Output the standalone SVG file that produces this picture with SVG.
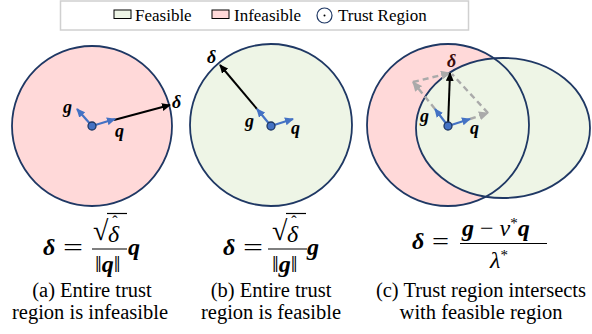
<svg xmlns="http://www.w3.org/2000/svg" width="592" height="334" viewBox="0 0 592 334" font-family="Liberation Serif, serif">
<style>
.lg{font-size:17px}
.cap{font-size:20.5px;text-anchor:middle}
.lab{font-size:18px;font-style:italic;font-weight:bold}
.m{font-size:24px}
.bi{font-style:italic;font-weight:bold}
.it{font-style:italic}
.inf{fill:#FFD9D9}
.fea{fill:#EEF5E6}
.ring{fill:none;stroke:#1F3864;stroke-width:1.8}
.bv{stroke:#4472C4;stroke-width:2.2;fill:none}
.kv{stroke:#000;stroke-width:2;fill:none}
.dv{stroke:#AAAAAA;stroke-width:2.4;stroke-dasharray:6 4;fill:none}
.dot{fill:#4472C4;stroke:#1F3864;stroke-width:1.3}
.bar{stroke:#000;stroke-width:1.2}
</style>
<defs>
<marker id="ab" markerUnits="userSpaceOnUse" markerWidth="9" markerHeight="8" refX="8" refY="4" orient="auto"><path d="M0,0 L9,4 L0,8 z" fill="#4472C4"/></marker>
<marker id="ak" markerUnits="userSpaceOnUse" markerWidth="9" markerHeight="8" refX="8" refY="4" orient="auto"><path d="M0,0 L9,4 L0,8 z" fill="#000"/></marker>
<marker id="ag" markerUnits="userSpaceOnUse" markerWidth="10" markerHeight="9" refX="9" refY="4.5" orient="auto"><path d="M0,0 L10,4.5 L0,9 z" fill="#AAAAAA"/></marker>
</defs>

<g id="legend">
<rect x="60.5" y="1" width="408" height="29" fill="#fff" stroke="#D0D0D0" stroke-width="1.5"/>
<rect x="114" y="10" width="17" height="8.5" class="fea" stroke="#000" stroke-width="1"/>
<text class="lg" x="135" y="21">Feasible</text>
<rect x="212" y="10" width="17" height="8.5" class="inf" stroke="#000" stroke-width="1"/>
<text class="lg" x="234" y="21">Infeasible</text>
<circle cx="324.5" cy="15.5" r="7.5" fill="none" stroke="#1F3864" stroke-width="1.2"/>
<circle cx="324.5" cy="15.5" r="1" fill="#000"/>
<text class="lg" x="338" y="21">Trust Region</text>
</g>

<g id="panel-a">
<circle cx="92" cy="126" r="80" class="inf"/>
<circle cx="92" cy="126" r="80" class="ring"/>
</g>
<g id="panel-b">
<circle cx="271" cy="125" r="81" class="fea"/>
<circle cx="271" cy="125" r="81" class="ring"/>
</g>
<g id="panel-c">
<circle cx="448" cy="125" r="81" class="inf"/>
<ellipse cx="503" cy="128" rx="87" ry="70" class="fea"/>
<circle cx="448" cy="125" r="81" class="ring"/>
<ellipse cx="503" cy="128" rx="87" ry="70" class="ring"/>
</g>

<g id="connectors">
<line x1="114" y1="120" x2="170" y2="105" class="kv" marker-end="url(#ak)"/>
<line x1="92" y1="126" x2="77" y2="109" class="bv" marker-end="url(#ab)"/>
<line x1="92" y1="126" x2="115" y2="119" class="bv" marker-end="url(#ab)"/>

<line x1="257" y1="109" x2="220" y2="65" class="kv" marker-end="url(#ak)"/>
<line x1="271" y1="126" x2="257" y2="109" class="bv" marker-end="url(#ab)"/>
<line x1="271" y1="126" x2="293" y2="119" class="bv" marker-end="url(#ab)"/>

<line x1="435" y1="109" x2="413" y2="82" class="dv" marker-end="url(#ag)"/>
<line x1="413" y1="82" x2="450" y2="73" class="dv" marker-end="url(#ag)"/>
<line x1="470" y1="119" x2="488" y2="113" class="dv" marker-end="url(#ag)"/>
<line x1="488" y1="113" x2="452" y2="74" class="dv"/>
<line x1="448" y1="126" x2="450" y2="73" class="kv" marker-end="url(#ak)"/>
<line x1="448" y1="126" x2="435" y2="109" class="bv" marker-end="url(#ab)"/>
<line x1="448" y1="126" x2="470" y2="119" class="bv" marker-end="url(#ab)"/>
</g>

<g id="dots">
<circle cx="92" cy="126" r="4" class="dot"/>
<circle cx="271" cy="126" r="4" class="dot"/>
<circle cx="448" cy="126" r="4" class="dot"/>
</g>

<g id="labels">
<text class="lab" x="63" y="113">g</text>
<text class="lab" x="115" y="137">q</text>
<text class="lab" x="172" y="108">δ</text>
<text class="lab" x="207" y="63">δ</text>
<text class="lab" x="245" y="127">g</text>
<text class="lab" x="291" y="134">q</text>
<text class="lab" x="447" y="67" fill="#3a0c0c">δ</text>
<text class="lab" x="420" y="122">g</text>
<text class="lab" x="470" y="134">q</text>
</g>

<g id="formula-a">
<text class="m bi" x="43" y="255">δ</text>
<text class="m" x="63" y="255" textLength="20" lengthAdjust="spacingAndGlyphs">=</text>
<line x1="92" y1="249" x2="127" y2="249" class="bar"/>
<text x="93" y="240" font-size="28">√</text>
<line x1="107" y1="213.5" x2="127" y2="213.5" class="bar"/>
<text class="m it" x="108" y="242">δ<tspan dx="-7" dy="-15" font-size="16" font-style="normal">ˆ</tspan></text>
<text class="m" x="95" y="272">‖<tspan class="bi">q</tspan>‖</text>
<text class="m bi" x="128" y="255">q</text>
</g>

<g id="formula-b">
<text class="m bi" x="223" y="255">δ</text>
<text class="m" x="243" y="255" textLength="20" lengthAdjust="spacingAndGlyphs">=</text>
<line x1="268" y1="249" x2="307" y2="249" class="bar"/>
<text x="272" y="240" font-size="28">√</text>
<line x1="286" y1="213.5" x2="306" y2="213.5" class="bar"/>
<text class="m it" x="287" y="242">δ<tspan dx="-7" dy="-15" font-size="16" font-style="normal">ˆ</tspan></text>
<text class="m" x="272" y="272">‖<tspan class="bi">g</tspan>‖</text>
<text class="m bi" x="307" y="255">g</text>
</g>

<g id="formula-c">
<text class="m bi" x="412" y="249">δ</text>
<text class="m" x="432" y="249" textLength="17" lengthAdjust="spacingAndGlyphs">=</text>
<line x1="460" y1="243.5" x2="547" y2="243.5" class="bar"/>
<text class="m" x="462" y="236"><tspan class="bi">g</tspan><tspan dx="6">−</tspan><tspan class="it" dx="6">ν</tspan><tspan dy="-8" font-size="15">*</tspan><tspan class="bi" dy="8">q</tspan></text>
<text class="m" x="490" y="268"><tspan class="it">λ</tspan><tspan dy="-8" font-size="15">*</tspan></text>
</g>

<g id="captions">
<text class="cap" x="92" y="297">(a) Entire trust</text>
<text class="cap" x="90" y="319">region is infeasible</text>
<text class="cap" x="271" y="297">(b) Entire trust</text>
<text class="cap" x="271" y="319">region is feasible</text>
<text class="cap" x="481" y="297">(c) Trust region intersects</text>
<text class="cap" x="481" y="319">with feasible region</text>
</g>
</svg>
